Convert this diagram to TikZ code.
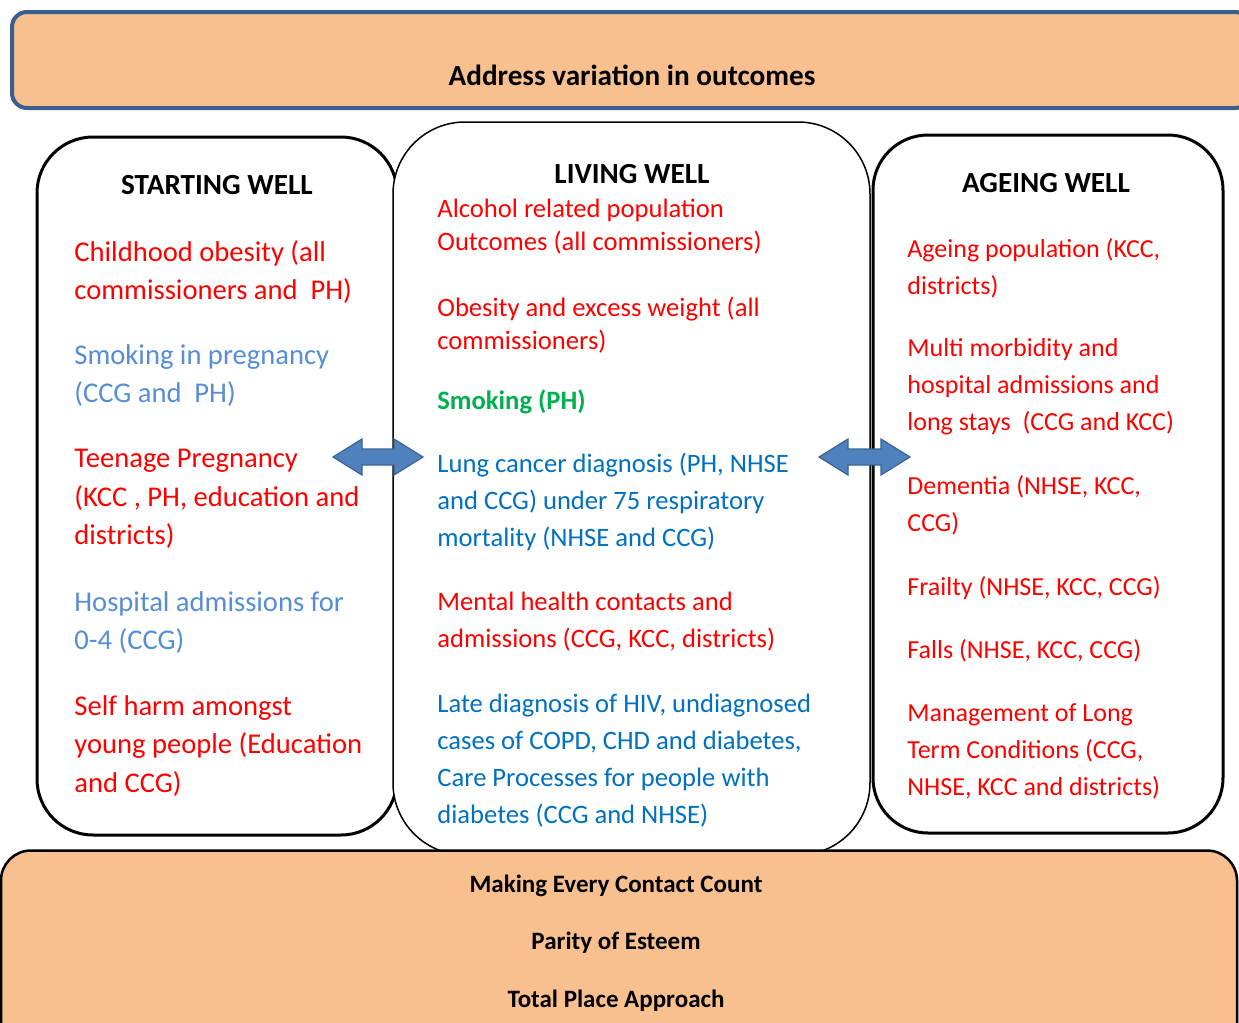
\documentclass[tikz,border=0pt]{standalone}
\usepackage{fontspec}
\setmainfont{Carlito}
\usetikzlibrary{positioning}
\definecolor{peach}{HTML}{F9C08F}
\definecolor{bannerblue}{HTML}{3A5F8E}
\definecolor{itemred}{HTML}{FF0000}
\definecolor{itemblue}{HTML}{0070C0}
\definecolor{paleblue}{HTML}{558ED5}
\definecolor{itemgreen}{HTML}{00B050}
\definecolor{arrowfill}{HTML}{4F81BD}
\definecolor{arrowline}{HTML}{3A6496}
\newcommand\blockarrow[1]{% half length
  +(-#1,0) -- +(-#1+29,-18) -- +(-#1+29,-8) -- +(#1-29,-8) -- +(#1-29,-18)
  -- +(#1,0) -- +(#1-29,18) -- +(#1-29,8) -- +(-#1+29,8) -- +(-#1+29,18) -- cycle
}

\begin{document}
\begin{tikzpicture}[x=0.5pt,y=-0.5pt,
    banner/.style={fill=peach,inner sep=0},
    wellbox/.style={draw=black,fill=white,line width=1.5pt,inner sep=0},
    heading/.style={inner sep=0,font=\bfseries\fontsize{14.6}{17}\selectfont},
    item/.style={anchor=north west,inner sep=0,align=left},
    lefttext/.style={item,font=\fontsize{14.3}{19.3}\selectfont},
    midtext/.style={item,font=\fontsize{13.3}{18.5}\selectfont},
    righttext/.style={item,font=\fontsize{13}{18.5}\selectfont},
    foot/.style={inner sep=0,font=\bfseries\fontsize{12.5}{14}\selectfont},
    arrowshape/.style={fill=arrowfill,draw=arrowline,line width=0.6pt}]
		\useasboundingbox (0,0) rectangle (1239,1023);
		\clip (0,0) rectangle (1239,1023);

		% banners
		\node[banner,draw=bannerblue,line width=2pt,rounded corners=7.5pt,
			minimum width=619pt,minimum height=48pt] (top) at (631,60) {};
		\node[heading] (outcomes) at (632,75) {Address variation in outcomes};

		% the three life stages
		\node[wellbox,rounded corners=28pt,minimum width=180pt,minimum height=349pt] (starting) at (217,486) {};
		\node[wellbox,rounded corners=27.5pt,minimum width=175pt,minimum height=349pt] (ageing) at (1048,484) {};
		\node[wellbox,line width=0.75pt,rounded corners=36pt,minimum width=238.5pt,minimum height=366.5pt] (living) at (631.5,488.5) {};

		\node[heading] (startingtitle) at (217,185) {STARTING WELL};
		\node[heading] (livingtitle) at (632,174) {LIVING WELL};
		\node[heading] (ageingtitle) at (1046,183) {AGEING WELL};

		% starting well
		\node[lefttext,text=itemred] (obesity) at (74,240) {Childhood obesity (all\\commissioners and \ PH)};
		\node[lefttext,text=paleblue] (pregsmoke) at (74,344) {Smoking in pregnancy\\(CCG and \ PH)};
		\node[lefttext,text=itemred] (teenage) at (74,449) {Teenage Pregnancy\\(KCC , PH, education and\\districts)};
		\node[lefttext,text=paleblue] (admissions) at (74,591) {Hospital admissions for\\0-4 (CCG)};
		\node[lefttext,text=itemred] (selfharm) at (74,695) {Self harm amongst\\young people (Education\\and CCG)};

		% living well
		\node[midtext,text=itemred,font=\fontsize{13.3}{16.5}\selectfont] (alcohol) at (437,199) {Alcohol related population\\Outcomes (all commissioners)};
		\node[midtext,text=itemred,font=\fontsize{13.3}{16.5}\selectfont] (weight) at (437,297) {Obesity and excess weight (all\\commissioners)};
		\node[midtext,text=itemgreen,font=\bfseries\fontsize{13.3}{18.5}\selectfont] (smoking) at (437,389) {Smoking (PH)};
		\node[midtext,text=itemblue] (lung) at (437,453) {Lung cancer diagnosis (PH, NHSE\\and CCG) under 75 respiratory\\mortality (NHSE and CCG)};
		\node[midtext,text=itemred] (mental) at (437,592) {Mental health contacts and\\admissions (CCG, KCC, districts)};
		\node[midtext,text=itemblue] (hiv) at (437,694) {Late diagnosis of HIV, undiagnosed\\cases of COPD, CHD and diabetes,\\Care Processes for people with\\diabetes (CCG and NHSE)};

		% ageing well
		\node[righttext,text=itemred] (population) at (907,238) {Ageing population (KCC,\\districts)};
		\node[righttext,text=itemred] (morbidity) at (907,338) {Multi morbidity and\\hospital admissions and\\long stays \ (CCG and KCC)};
		\node[righttext,text=itemred] (dementia) at (907,475) {Dementia (NHSE, KCC,\\CCG)};
		\node[righttext,text=itemred] (frailty) at (907,576) {Frailty (NHSE, KCC, CCG)};
		\node[righttext,text=itemred] (falls) at (907,639) {Falls (NHSE, KCC, CCG)};
		\node[righttext,text=itemred] (longterm) at (907,703) {Management of Long\\Term Conditions (CCG,\\NHSE, KCC and districts)};

		% bottom banner
		\node[banner,draw=black,line width=1.25pt,rounded corners=15pt,
			minimum width=618pt,minimum height=104.5pt] (bottom) at (619,955) {};
		\node[foot] (contact) at (616,886) {Making Every Contact Count};
		\node[foot] (esteem) at (616,943) {Parity of Esteem};
		\node[foot] (place) at (616,1001) {Total Place Approach};

		\draw[arrowshape] (378,457) \blockarrow{45};
		\draw[arrowshape] (864.5,457) \blockarrow{45.5};
	\end{tikzpicture}
\end{document}
